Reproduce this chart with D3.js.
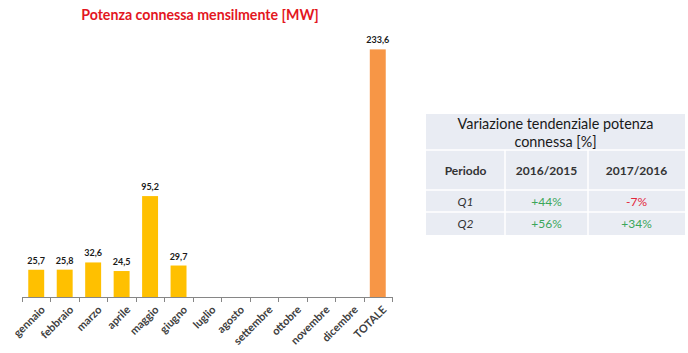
<!DOCTYPE html>
<html>
<head>
<meta charset="utf-8">
<script src="https://cdn.jsdelivr.net/npm/d3@7"></script>
<style>
  body { margin: 0; background: #fff; }
  svg { font-family: Lato, "Open Sans", sans-serif; }
</style>
</head>
<body>
<div class="chart"></div>
<script>
const months = ['gennaio', 'febbraio', 'marzo', 'aprile', 'maggio', 'giugno', 'luglio',
  'agosto', 'settembre', 'ottobre', 'novembre', 'dicembre', 'TOTALE'];
const values = [25.7, 25.8, 32.6, 24.5, 95.2, 29.7, null, null, null, null, null, null, 233.6];

const tableTitle = ['Variazione tendenziale potenza', 'connessa [%]'];
const tableHeader = ['Periodo', '2016/2015', '2017/2016'];
const periods = ['Q1', 'Q2'];
const var1615 = ['+44%', '+56%'];
const var1716 = ['-7%', '+34%'];

const svg = d3.select('.chart')
  .append('svg')
  .attr('width', 688)
  .attr('height', 353);

// title
svg.append('text')
  .attr('x', 200)
  .attr('y', 20)
  .attr('text-anchor', 'middle')
  .attr('fill', '#e3161e')
  .attr('font-size', 14.2)
  .attr('font-weight', 'bold')
  .text('Potenza connessa mensilmente [MW]');

const x = d3.scaleBand()
  .domain(months)
  .range([22, 392])
  .paddingInner(0.44)
  .paddingOuter(0.22);

const y = d3.scaleLinear()
  .domain([0, 250])
  .range([297, 32]);

const barData = months.map((m, i) => ({ m, v: values[i] })).filter(d => d.v != null);

// bars
svg.append('g')
  .selectAll('rect')
  .data(barData)
  .join('rect')
    .attr('x', d => x(d.m))
    .attr('width', x.bandwidth())
    .attr('y', d => y(d.v))
    .attr('height', d => y(0) - y(d.v))
    .attr('fill', d => d.m === 'TOTALE' ? '#f79646' : '#ffc000');

// value labels
svg.append('g')
  .selectAll('text')
  .data(barData)
  .join('text')
    .attr('x', d => x(d.m) + x.bandwidth() / 2)
    .attr('y', d => y(d.v) - 6)
    .attr('text-anchor', 'middle')
    .attr('font-size', 9)
    .attr('font-weight', 'bold')
    .attr('fill', '#1a1a1a')
    .text(d => d3.format('.1f')(d.v).replace('.', ','));

// x axis with ticks between categories
const ax = svg.append('g');
ax.append('line')
  .attr('x1', 22).attr('x2', 392)
  .attr('y1', 297.5).attr('y2', 297.5)
  .attr('stroke', '#868686');
d3.range(months.length + 1).forEach(i => {
  const tx = Math.round(22 + i * (370 / months.length)) + 0.5;
  ax.append('line')
    .attr('x1', tx).attr('x2', tx)
    .attr('y1', 297).attr('y2', 302)
    .attr('stroke', '#868686');
});
ax.selectAll('text.lab')
  .data(months)
  .join('text')
    .attr('class', 'lab')
    .attr('transform', d => `translate(${x(d) + x.bandwidth() / 2 + 4},${305}) rotate(-45)`)
    .attr('text-anchor', 'end')
    .attr('dy', '0.7em')
    .attr('font-size', 11)
    .attr('font-weight', 'bold')
    .attr('fill', '#404040')
    .text(d => d);

// table
const tx0 = 426, colX = [426, 505, 588, 685];
const rowY = [114, 150, 190, 212, 235];
const tbl = svg.append('g');
tbl.append('rect')
  .attr('x', tx0).attr('y', rowY[0])
  .attr('width', colX[3] - tx0).attr('height', rowY[4] - rowY[0])
  .attr('fill', '#e9ecf3');
// white grid lines
rowY.slice(1, 4).forEach(ry => {
  tbl.append('line')
    .attr('x1', tx0).attr('x2', colX[3])
    .attr('y1', ry).attr('y2', ry)
    .attr('stroke', '#fff').attr('stroke-width', 1.5);
});
colX.slice(1, 3).forEach(cx => {
  tbl.append('line')
    .attr('x1', cx).attr('x2', cx)
    .attr('y1', rowY[1]).attr('y2', rowY[4])
    .attr('stroke', '#fff').attr('stroke-width', 1.5);
});

tbl.selectAll('text.tt')
  .data(tableTitle)
  .join('text')
    .attr('class', 'tt')
    .attr('x', (tx0 + colX[3]) / 2)
    .attr('y', (d, i) => 129 + i * 18)
    .attr('text-anchor', 'middle')
    .attr('font-size', 14.4)
    .attr('fill', '#1a1a1a')
    .text(d => d);

const colMid = i => (colX[i] + colX[i + 1]) / 2;
tbl.selectAll('text.th')
  .data(tableHeader)
  .join('text')
    .attr('class', 'th')
    .attr('x', (d, i) => colMid(i))
    .attr('y', 175)
    .attr('text-anchor', 'middle')
    .attr('font-size', 12)
    .attr('font-weight', 'bold')
    .attr('fill', '#333')
    .text(d => d);

const pct = v => v.startsWith('-') ? '#e3263a' : '#3ba65a';
periods.forEach((p, r) => {
  const cy = (rowY[r + 2] + rowY[r + 3]) / 2 + 4.5;
  tbl.append('text')
    .attr('x', colMid(0)).attr('y', cy)
    .attr('text-anchor', 'middle')
    .attr('font-size', 12)
    .attr('font-style', 'italic')
    .attr('fill', '#333')
    .text(p);
  tbl.append('text')
    .attr('x', colMid(1)).attr('y', cy)
    .attr('text-anchor', 'middle')
    .attr('font-size', 12)
    .attr('fill', pct(var1615[r]))
    .text(var1615[r]);
  tbl.append('text')
    .attr('x', colMid(2)).attr('y', cy)
    .attr('text-anchor', 'middle')
    .attr('font-size', 12)
    .attr('fill', pct(var1716[r]))
    .text(var1716[r]);
});
</script>
</body>
</html>
